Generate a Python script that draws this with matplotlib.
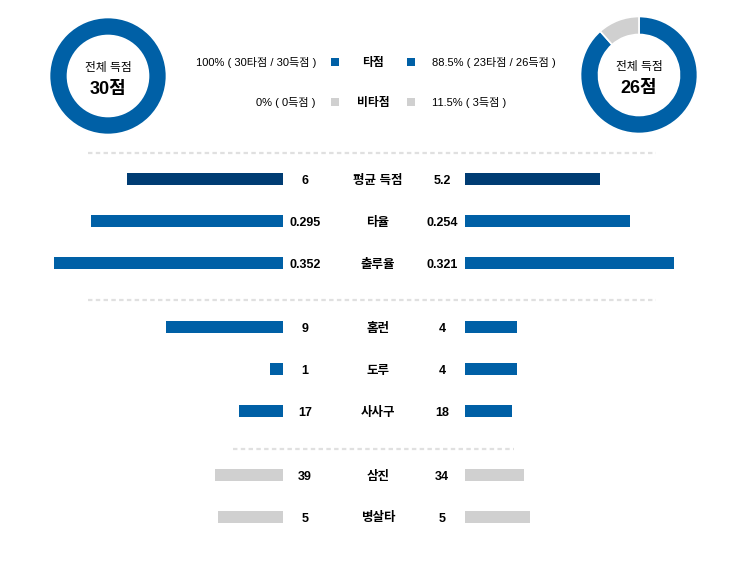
import numpy as np
import matplotlib
matplotlib.use('Agg')
import matplotlib.pyplot as plt

plt.rcParams['font.family'] = ['Liberation Sans', 'Noto Sans CJK KR']

# 상단 도넛 데이터
left_total = 30
right_total = 26
left_split = [30, 0]      # 타점, 비타점
right_split = [23, 3]
left_legend = ['100% ( 30타점 / 30득점 )', '0% ( 0득점 )']
right_legend = ['88.5% ( 23타점 / 26득점 )', '11.5% ( 3득점 )']
legend_names = ['타점', '비타점']

# 비교 막대 데이터
labels = ['평균 득점', '타율', '출루율', '홈런', '도루', '사사구', '삼진', '병살타']
left_vals = [6, 0.295, 0.352, 9, 1, 17, 39, 5]
right_vals = [5.2, 0.254, 0.321, 4, 4, 18, 34, 5]
left_txt = ['6', '0.295', '0.352', '9', '1', '17', '39', '5']
right_txt = ['5.2', '0.254', '0.321', '4', '4', '18', '34', '5']
scale_max = [10, 0.4, 0.4, 20, 20, 100, 150, 20]

NAVY = '#003c73'
BLUE = '#0060a6'
GREY = '#d0d0d0'
row_colors = [NAVY, BLUE, BLUE, BLUE, BLUE, BLUE, GREY, GREY]
row_y = [179, 221, 263, 327, 369, 411, 475, 517]

W, H = 748, 569
fig = plt.figure(figsize=(W / 100, H / 100), dpi=100)
ax = fig.add_axes([0, 0, 1, 1])
ax.set_xlim(0, W)
ax.set_ylim(H, 0)
ax.axis('off')

# 막대
bar_w = 260
for i in range(len(labels)):
    lw = left_vals[i] / scale_max[i] * bar_w
    rw = right_vals[i] / scale_max[i] * bar_w
    ax.barh(row_y[i], lw, left=283 - lw, height=12, color=row_colors[i])
    ax.barh(row_y[i], rw, left=465, height=12, color=row_colors[i])
    yb = row_y[i] + 4.5
    ax.text(305, yb, left_txt[i], ha='center', va='baseline', fontsize=9, fontweight='bold')
    ax.text(378, yb, labels[i], ha='center', va='baseline', fontsize=9, fontweight='bold')
    ax.text(442, yb, right_txt[i], ha='center', va='baseline', fontsize=9, fontweight='bold')

# 점선 구분선
for y, x0, x1 in [(153, 88, 656), (300, 88, 656), (449, 233, 514)]:
    ax.plot([x0, x1], [y, y], color='#e0e0e0', lw=1.6, linestyle=(0, (2, 1.5)))

# 도넛
def donut(cx, cy, split, total):
    dax = fig.add_axes([(cx - 60) / W, 1 - (cy + 60) / H, 120 / W, 120 / H])
    vals = [v for v in split]
    if vals[1] == 0:
        vals = [vals[0]]
        cols = [BLUE]
    else:
        cols = [BLUE, GREY]
    dax.pie(vals, colors=cols, startangle=90, counterclock=False, radius=0.975,
            wedgeprops=dict(width=0.3, edgecolor='white', linewidth=1.2))
    dax.set_xlim(-1, 1)
    dax.set_ylim(-1, 1)
    dax.set_aspect('equal')
    dax.axis('off')
    ax.text(cx, cy - 5, '전체 득점', ha='center', va='baseline', fontsize=8.5)
    ax.text(cx, cy + 18, f'{total}점', ha='center', va='baseline', fontsize=13, fontweight='bold')

donut(108, 76, left_split, left_total)
donut(639, 75, right_split, right_total)

# 범례
leg_y = [62, 102]
leg_cols = [BLUE, GREY]
for j in range(2):
    yb = leg_y[j] + 4
    ax.text(316, yb, left_legend[j], ha='right', va='baseline', fontsize=8)
    ax.scatter([335, 411], [leg_y[j], leg_y[j]], marker='s', s=40, color=leg_cols[j], linewidths=0)
    ax.text(373, yb, legend_names[j], ha='center', va='baseline', fontsize=8.5, fontweight='bold')
    ax.text(432, yb, right_legend[j], ha='left', va='baseline', fontsize=8)

fig.savefig('out.png', dpi=100, facecolor='white')
